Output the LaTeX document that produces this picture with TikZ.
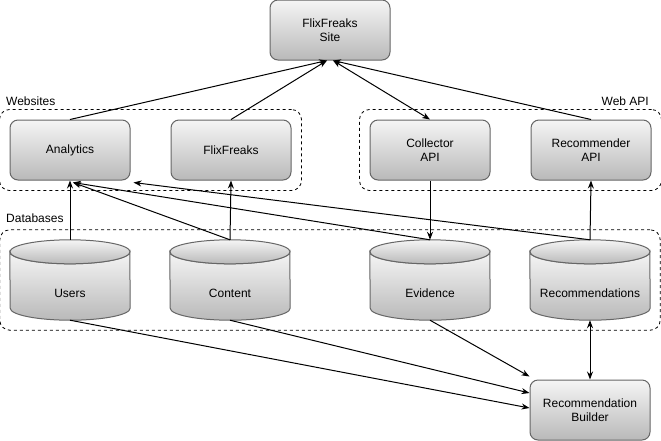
\documentclass[tikz,border=0pt]{standalone}
\usepackage{fontspec}
\setmainfont{Liberation Sans}
\usetikzlibrary{arrows.meta, positioning, fit, backgrounds}
\definecolor{boxline}{RGB}{102,102,102}
\definecolor{boxtop}{RGB}{245,245,245}
\definecolor{boxbottom}{RGB}{185,185,185}

\begin{document}
\begin{tikzpicture}[x=1pt, y=-1pt, >={Stealth[length=8pt, width=6pt]},
    box/.style={draw=boxline, line width=1pt, rounded corners=8pt, top color=boxtop, bottom color=boxbottom, minimum width=120pt, minimum height=60pt, align=center, font=\fontsize{12}{14}\selectfont},
    db/.style={minimum width=120pt, minimum height=80pt, inner sep=0pt, text height=40pt, text depth=6pt, font=\fontsize{12}{14}\selectfont},
    dbbody/.style={draw=boxline, line width=1pt, top color=boxtop, bottom color=boxbottom},
    group/.style={draw, dashed, line width=0.8pt, rounded corners=10pt, inner sep=10pt},
    grouplabel/.style={font=\fontsize{12}{14}\selectfont, inner sep=0pt},
    link/.style={->, line width=1pt}]
    \useasboundingbox (0,0) rectangle (661,440);

    % Top site
    \node[box] (site) at (330,30) {FlixFreaks\\Site};

    % Websites and Web API
    \node[box] (analytics) at (70,150) {Analytics};
    \node[box, right=40pt of analytics] (flixfreaks) {FlixFreaks};
    \node[box] (collector) at (430,150) {Collector\\API};
    \node[box, right=40pt of collector] (recommender) {Recommender\\API};

    % Databases
    \node[db] (users) at (70,280) {Users};
    \node[db] (content) at (230,280) {Content};
    \node[db] (evidence) at (430,280) {Evidence};
    \node[db] (recommendations) at (590,280) {Recommendations};
    \begin{scope}[on background layer]
        \foreach \n in {users,content,evidence,recommendations} {
            \path[dbbody] ([yshift=-12pt]\n.north west)
                arc[start angle=180, end angle=360, x radius=60pt, y radius=12pt]
                -- ([yshift=12pt]\n.south east)
                arc[start angle=0, end angle=-180, x radius=60pt, y radius=12pt]
                -- cycle;
            \path[dbbody] ([yshift=-12pt]\n.north) ellipse[x radius=60pt, y radius=12pt];
        }
    \end{scope}

    % Builder
    \node[box] (builder) at (590,410) {Recommendation\\Builder};

    % Groups
    \node[group, fit=(analytics)(flixfreaks)] (websites) {};
    \node[group, fit=(collector)(recommender)] (webapi) {};
    \node[group, fit=(users)(recommendations)] (databases) {};
    \node[grouplabel, anchor=west] (websiteslabel) at (6,101) {Websites};
    \node[grouplabel, anchor=east] (webapilabel) at (649,101) {Web API};
    \node[grouplabel, anchor=west] (databaseslabel) at (6,218) {Databases};

    % Connections to site
    \draw[link] (analytics.north) -- ([xshift=-3pt]site.south);
    \draw[link] (flixfreaks.north) -- ([xshift=-3pt]site.south);
    \draw[link, <->] (collector.north) -- ([xshift=3pt]site.south);
    \draw[link] (recommender.north) -- ([xshift=3pt]site.south);

    % Between layers
    \draw[link] (collector.south) -- (evidence.north);
    \draw[link] (recommendations.north) -- (recommender.south);
    \draw[link] (users.north) -- (analytics.south);
    \draw[link] (content.north) -- (flixfreaks.south);
    \draw[link] (content.north) -- ([xshift=3pt, yshift=-2pt]analytics.south);
    \draw[link] (evidence.north) -- ([xshift=3pt, yshift=-2pt]analytics.south);
    \draw[link] (recommendations.north) -- ([xshift=3pt, yshift=-2pt]analytics.south east);

    % Builder inputs
    \draw[link] (users.south) -- ([yshift=2pt]builder.west);
    \draw[link] (content.south) -- ([yshift=17pt]builder.west);
    \draw[link] (evidence.south) -- ([yshift=3pt]builder.north west);
    \draw[link, <->] (recommendations.south) -- (builder.north);
\end{tikzpicture}
\end{document}
